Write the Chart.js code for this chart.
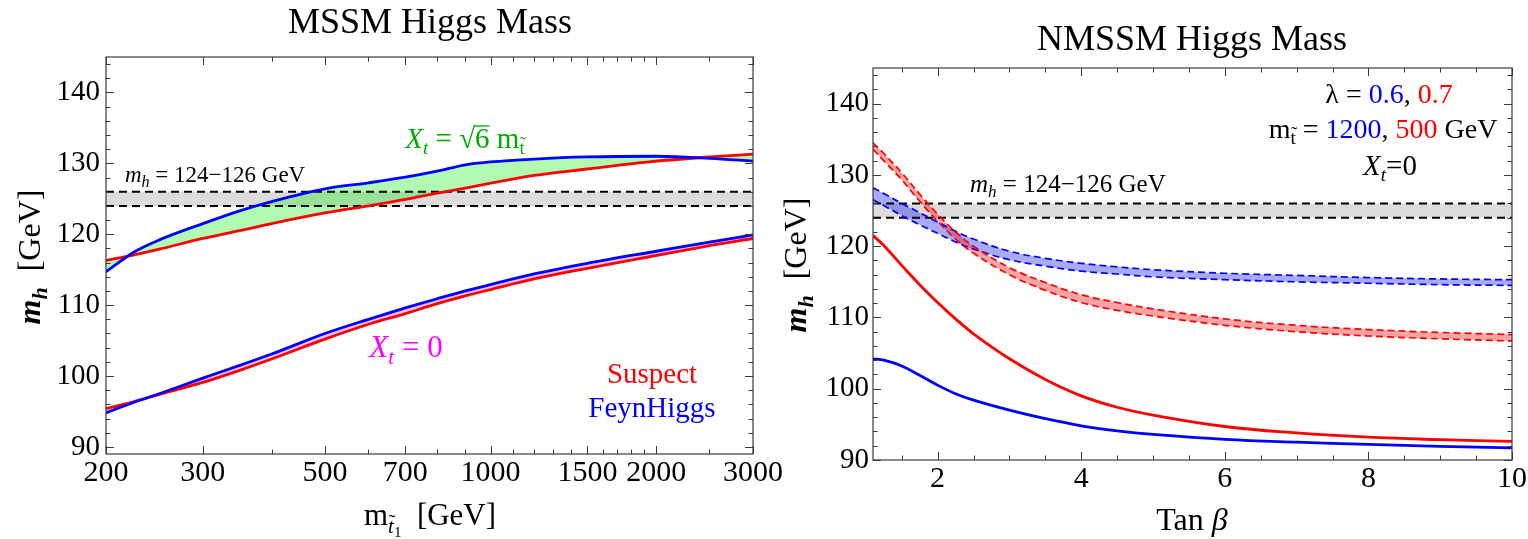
<!DOCTYPE html>
<html>
<head>
<meta charset="utf-8">
<script src="https://cdn.jsdelivr.net/npm/chart.js@4.4.1/dist/chart.umd.min.js"></script>
<style>
  html, body { margin: 0; padding: 0; background: #fff; overflow: hidden; }
  canvas { position: absolute; top: 0; }
</style>
</head>
<body>
<canvas id="mssm" width="790" height="539" style="left:0"></canvas>
<canvas id="nmssm" width="764" height="539" style="left:764px"></canvas>
<script>
// ---- left panel: MSSM Higgs mass vs stop mass ----
const mStop = [200, 225, 250, 300, 350, 400, 500, 600, 700, 800, 900, 1000, 1200, 1500, 2000, 2500, 3000];
const suspectMax = [116.3, 117.1, 117.9, 119.4, 120.5, 121.5, 123.0, 124.0, 124.9, 125.8, 126.5, 127.2, 128.3, 129.2, 130.3, 130.9, 131.3];
const feynMax = [114.7, 117.5, 119.2, 121.5, 123.3, 124.6, 126.4, 127.25, 128.05, 128.9, 129.8, 130.2, 130.6, 130.9, 131.0, 130.7, 130.3];
const suspectZero = [95.4, 96.4, 97.4, 99.1, 100.8, 102.4, 105.2, 107.3, 108.8, 110.2, 111.3, 112.2, 113.7, 115.2, 117.0, 118.4, 119.4];
const feynZero = [94.8, 96.3, 97.5, 99.7, 101.5, 103.1, 106.0, 108.0, 109.6, 110.9, 112.0, 112.9, 114.4, 115.9, 117.6, 118.9, 119.9];
const bandXL = [200, 3000];

// ---- right panel: NMSSM Higgs mass vs tan beta ----
const tanB = [1.1, 1.25, 1.5, 1.75, 2, 2.25, 2.5, 3, 3.5, 4, 4.5, 5, 6, 7, 8, 9, 10];
const redBandHi = [134.5, 133.0, 130.3, 127.3, 124.5, 122.0, 120.0, 117.0, 114.9, 113.2, 112.1, 111.2, 109.8, 108.9, 108.3, 107.9, 107.6];
const redBandLo = [133.6, 132.0, 129.3, 126.3, 123.5, 121.0, 119.0, 116.0, 113.8, 112.1, 111.0, 110.2, 108.9, 108.0, 107.4, 107.0, 106.7];
const blueBandHi = [128.2, 127.4, 126.0, 124.7, 123.4, 122.1, 121.0, 119.3, 118.3, 117.6, 117.1, 116.7, 116.2, 115.9, 115.6, 115.4, 115.3];
const blueBandLo = [126.5, 125.7, 124.3, 123.0, 121.8, 120.6, 119.6, 118.1, 117.2, 116.5, 116.1, 115.7, 115.3, 115.0, 114.8, 114.6, 114.5];
const redSolid = [121.5, 120.1, 117.3, 114.6, 112.1, 109.8, 107.7, 104.2, 101.3, 99.0, 97.4, 96.3, 94.7, 93.8, 93.2, 92.85, 92.6];
const blueSolid = [104.2, 104.0, 103.2, 101.9, 100.5, 99.3, 98.4, 97.0, 95.8, 94.8, 94.1, 93.6, 92.9, 92.5, 92.2, 91.9, 91.7];
const bandXR = [1.1, 10];

// shared
const bandLo = [124, 124];
const bandHi = [126, 126];
const xTicksL = [200, 300, 500, 700, 1000, 1500, 2000, 3000];
const xTicksR = [2, 4, 6, 8, 10];
const yTicks = [90, 100, 110, 120, 130, 140];

const FONT = '"Liberation Serif", "Times New Roman", serif';
const RED = 'rgb(255,0,0)', BLUE = 'rgb(0,0,255)', GREEN = 'rgb(0,170,0)', MAGENTA = 'rgb(255,0,255)';
const GREY = 'rgb(220,220,220)';

function pts(xs, ys) {
    return xs.map((x, i) => ({ x: x, y: ys[i] }));
}

// draws a row of text pieces (sub/superscripts, colours, italics)
function rich(ctx, parts, x, y, align) {
    let w = 0;
    parts.forEach(p => {
        ctx.font = (p.f || '') + ' ' + p.s + 'px ' + FONT;
        p.w = ctx.measureText(p.t).width;
        w += p.w;
    });
    let cx = align === 'center' ? x - w / 2 : x;
    parts.forEach(p => {
        const yy = y + (p.dy || 0);
        ctx.font = (p.f || '') + ' ' + p.s + 'px ' + FONT;
        ctx.fillStyle = p.c || '#000';
        ctx.fillText(p.t, cx, yy);
        if (p.tilde) {
            ctx.font = p.s + 'px ' + FONT;
            const tw = ctx.measureText('\u02DC').width;
            ctx.fillText('\u02DC', cx + p.w / 2 - tw / 2 + 1, yy - p.s * 0.2);
        }
        if (p.over) {
            ctx.strokeStyle = p.c || '#000';
            ctx.lineWidth = 1.3;
            ctx.beginPath();
            ctx.moveTo(cx - 1, yy - p.s * 0.76);
            ctx.lineTo(cx + p.w, yy - p.s * 0.76);
            ctx.stroke();
        }
        cx += p.w;
    });
}

function drawFrame(chart, xMaj, xMin, yMaj, yMin) {
    const { ctx, chartArea: a, scales } = chart;
    ctx.save();
    ctx.strokeStyle = '#3a3a3a';
    ctx.lineWidth = 1;
    ctx.beginPath();
    const xt = (v, len) => {
        const p = Math.round(scales.x.getPixelForValue(v)) + 0.5;
        ctx.moveTo(p, a.bottom); ctx.lineTo(p, a.bottom - len);
        ctx.moveTo(p, a.top); ctx.lineTo(p, a.top + len);
    };
    const yt = (v, len) => {
        const p = Math.round(scales.y.getPixelForValue(v)) + 0.5;
        ctx.moveTo(a.left, p); ctx.lineTo(a.left + len, p);
        ctx.moveTo(a.right, p); ctx.lineTo(a.right - len, p);
    };
    xMaj.forEach(v => xt(v, 8));
    xMin.forEach(v => xt(v, 4.5));
    yMaj.forEach(v => yt(v, 8));
    yMin.forEach(v => yt(v, 4.5));
    ctx.stroke();
    ctx.lineWidth = 1.2;
    ctx.strokeRect(a.left, a.top, a.right - a.left, a.bottom - a.top);
    ctx.restore();
}

function yAxisTitle(ctx, x, y) {
    ctx.save();
    ctx.translate(x, y);
    ctx.rotate(-Math.PI / 2);
    rich(ctx, [
        { t: 'm', s: 32, f: 'bold italic' },
        { t: 'h', s: 22, f: 'bold italic', dy: 7 },
        { t: '  [GeV]', s: 32 }
    ], 0, 0, 'center');
    ctx.restore();
}

const yMinor = [];
for (let v = 90; v <= 144; v += 2) if (v % 10) yMinor.push(v);
const xMinorL = [];
for (let v = 200; v <= 2000; v += 100) if (!xTicksL.includes(v)) xMinorL.push(v);
xMinorL.push(2500);
const xMinorR = [];
for (let v = 1.5; v < 10; v += 0.5) if (v % 2) xMinorR.push(v);

function lineSet(label, xs, ys, color, width, extra) {
    return Object.assign({
        label: label,
        data: pts(xs, ys),
        borderColor: color,
        borderWidth: width,
        pointRadius: 0,
        fill: false,
        cubicInterpolationMode: 'monotone'
    }, extra || {});
}

function scaleOpts(type, min, max, ticks, tickFont, pad, fit) {
    return {
        type: type,
        min: min,
        max: max,
        grid: { display: false, drawTicks: false },
        border: { display: false },
        afterBuildTicks: s => { s.ticks = ticks.map(v => ({ value: v })); },
        afterFit: fit,
        ticks: {
            autoSkip: false,
            maxRotation: 0,
            padding: pad,
            color: '#000',
            font: { family: FONT, size: tickFont },
            callback: v => String(v)
        }
    };
}

const common = {
    responsive: false,
    animation: false,
    devicePixelRatio: 1,
    events: [],
    plugins: {
        legend: { display: false },
        tooltip: { enabled: false },
        filler: { drawTime: 'beforeDatasetsDraw' }
    }
};

const smooth = { cubicInterpolationMode: 'default', tension: 0.4 };
const dashBand = [8, 5];

// left chart
new Chart(document.getElementById('mssm'), {
    type: 'line',
    data: {
        datasets: [
            lineSet('124', bandXL, bandLo, '#000', 2, { borderDash: dashBand, order: 10, tension: 0 }),
            lineSet('126', bandXL, bandHi, '#000', 2, { borderDash: dashBand, order: 9, tension: 0,
                fill: { target: 0, above: GREY, below: GREY } }),
            lineSet('Suspect, Xt = sqrt6 m', mStop, suspectMax, RED, 2.8, { order: 2 }),
            lineSet('FeynHiggs, Xt = sqrt6 m', mStop, feynMax, BLUE, 2.8, { order: 1,
                fill: { target: 2, above: 'rgba(0,235,0,0.3)', below: 'rgba(0,235,0,0.3)' } }),
            lineSet('Suspect, Xt = 0', mStop, suspectZero, RED, 2.8, { order: 2 }),
            lineSet('FeynHiggs, Xt = 0', mStop, feynZero, BLUE, 2.8, { order: 1,
                fill: { target: 4, above: 'rgb(240,190,240)', below: 'rgb(240,190,240)' } })
        ]
    },
    options: Object.assign({}, common, {
        layout: { padding: { left: 0, right: 37, top: 57, bottom: 0 } },
        scales: {
            x: scaleOpts('logarithmic', 200, 3000, xTicksL, 30, 1, s => { s.height = 85; }),
            y: scaleOpts('linear', 89, 145, yTicks, 29, 6, s => { s.width = 106; })
        }
    }),
    plugins: [{
        id: 'mssmDeco',
        afterDraw(chart) {
            const ctx = chart.ctx;
            drawFrame(chart, xTicksL, xMinorL, yTicks, yMinor);
            ctx.save();
            ctx.textBaseline = 'alphabetic';
            rich(ctx, [{ t: 'MSSM Higgs Mass', s: 36 }], 430, 33, 'center');
            rich(ctx, [
                { t: 'm', s: 31 },
                { t: 't', s: 21, f: 'italic', dy: 8, tilde: true },
                { t: '1', s: 15, dy: 12 },
                { t: '  [GeV]', s: 31 }
            ], 430, 525, 'center');
            yAxisTitle(ctx, 40, 257);
            rich(ctx, [
                { t: 'X', s: 29, f: 'italic', c: GREEN },
                { t: 't', s: 19, f: 'italic', dy: 6, c: GREEN },
                { t: ' = \u221A', s: 29, c: GREEN },
                { t: '6', s: 29, c: GREEN, over: true },
                { t: ' m', s: 29, c: GREEN },
                { t: 't', s: 19, dy: 6, c: GREEN, tilde: true }
            ], 465, 148, 'center');
            rich(ctx, [
                { t: 'm', s: 23, f: 'italic' },
                { t: 'h', s: 16, f: 'italic', dy: 5 },
                { t: ' = 124\u2212126 GeV', s: 23 }
            ], 125, 182, 'left');
            rich(ctx, [
                { t: 'X', s: 31, f: 'italic', c: MAGENTA },
                { t: 't', s: 21, f: 'italic', dy: 7, c: MAGENTA },
                { t: ' = 0', s: 31, c: MAGENTA }
            ], 406, 357, 'center');
            rich(ctx, [{ t: 'Suspect', s: 29, c: RED }], 652, 383, 'center');
            rich(ctx, [{ t: 'FeynHiggs', s: 29, c: BLUE }], 652, 417, 'center');
            ctx.restore();
        }
    }]
});

// right chart
new Chart(document.getElementById('nmssm'), {
    type: 'line',
    data: {
        datasets: [
            lineSet('124', bandXR, bandLo, '#000', 2, { borderDash: dashBand, order: 10, tension: 0 }),
            lineSet('126', bandXR, bandHi, '#000', 2, { borderDash: dashBand, order: 9, tension: 0,
                fill: { target: 0, above: GREY, below: GREY } }),
            lineSet('lambda 0.6 lo', tanB, blueBandLo, BLUE, 1.7, Object.assign({ borderDash: [7, 4], order: 6 }, smooth)),
            lineSet('lambda 0.6 hi', tanB, blueBandHi, BLUE, 1.7, Object.assign({ borderDash: [7, 4], order: 5,
                fill: { target: 2, above: 'rgba(30,30,240,0.38)', below: 'rgba(30,30,240,0.38)' } }, smooth)),
            lineSet('lambda 0.7 lo', tanB, redBandLo, RED, 1.7, Object.assign({ borderDash: [7, 4], order: 4 }, smooth)),
            lineSet('lambda 0.7 hi', tanB, redBandHi, RED, 1.7, Object.assign({ borderDash: [7, 4], order: 3,
                fill: { target: 4, above: 'rgba(240,0,0,0.36)', below: 'rgba(240,0,0,0.36)' } }, smooth)),
            lineSet('red solid', tanB, redSolid, RED, 2.8, Object.assign({ order: 1 }, smooth)),
            lineSet('blue solid', tanB, blueSolid, BLUE, 2.8, Object.assign({ order: 1 }, smooth))
        ]
    },
    options: Object.assign({}, common, {
        layout: { padding: { left: 0, right: 16, top: 68, bottom: 0 } },
        scales: {
            x: scaleOpts('linear', 1.1, 10, xTicksR, 30, 1, s => { s.height = 79; }),
            y: scaleOpts('linear', 90, 145, yTicks, 29, 4, s => { s.width = 109; })
        }
    }),
    plugins: [{
        id: 'nmssmDeco',
        afterDraw(chart) {
            const ctx = chart.ctx;
            drawFrame(chart, xTicksR, xMinorR, yTicks, yMinor);
            ctx.save();
            ctx.textBaseline = 'alphabetic';
            rich(ctx, [{ t: 'NMSSM Higgs Mass', s: 36 }], 428, 50, 'center');
            rich(ctx, [
                { t: 'Tan ', s: 32 },
                { t: '\u03B2', s: 32, f: 'italic' }
            ], 428, 530, 'center');
            yAxisTitle(ctx, 42, 265);
            rich(ctx, [
                { t: '\u03BB = ', s: 28 },
                { t: '0.6', s: 28, c: BLUE },
                { t: ', ', s: 28 },
                { t: '0.7', s: 28, c: RED }
            ], 625, 103, 'center');
            rich(ctx, [
                { t: 'm', s: 28 },
                { t: 't', s: 19, dy: 6, tilde: true },
                { t: ' = ', s: 28 },
                { t: '1200', s: 28, c: BLUE },
                { t: ', ', s: 28 },
                { t: '500', s: 28, c: RED },
                { t: ' GeV', s: 28 }
            ], 619, 138, 'center');
            rich(ctx, [
                { t: 'X', s: 29, f: 'italic' },
                { t: 't', s: 19, f: 'italic', dy: 6 },
                { t: '=0', s: 29 }
            ], 626, 175, 'center');
            rich(ctx, [
                { t: 'm', s: 25, f: 'italic' },
                { t: 'h', s: 17, f: 'italic', dy: 5 },
                { t: ' = 124\u2212126 GeV', s: 25 }
            ], 206, 192, 'left');
            ctx.restore();
        }
    }]
});
</script>
</body>
</html>
